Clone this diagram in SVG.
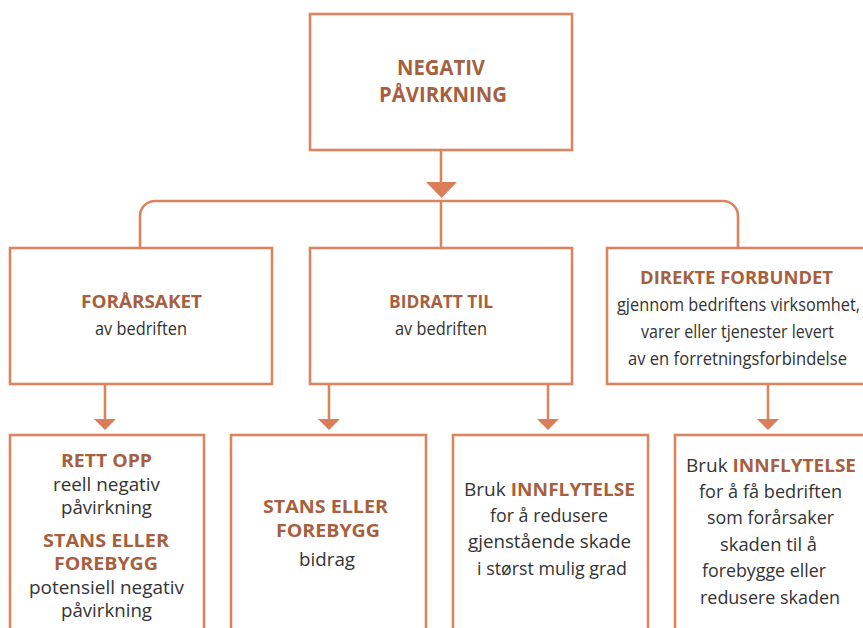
<svg xmlns="http://www.w3.org/2000/svg" width="863" height="628" viewBox="0 0 863 628">
<style>
.box{fill:#fff;stroke:#DA8560;stroke-width:2.6}
.ln{fill:none;stroke:#DA8560;stroke-width:2.6}
.tri{fill:#D97E58}
text{font-family:"Open Sans","Noto Sans","Liberation Sans",sans-serif;text-anchor:middle}
.b{font-weight:bold;fill:#A65F3F;font-size:18px}
.r{fill:#333;font-size:18px}
.t{font-weight:bold;fill:#A65F3F;font-size:21px}
</style>
<rect width="863" height="628" fill="#fff"/>
<g id="connectors">
<path class="ln" d="M441 150 V186"/>
<polygon class="tri" points="426,182 457,182 441.5,198"/>
<path class="ln" d="M140 248 V216 A15 15 0 0 1 155 201 H723 A15 15 0 0 1 738 216 V248 M441 201 V248"/>
<path class="ln" d="M105 384 V422 M329 384 V422 M548 384 V422 M768 384 V422"/>
<polygon class="tri" points="94,419 116,419 105,430"/>
<polygon class="tri" points="318,419 340,419 329,430"/>
<polygon class="tri" points="537,419 559,419 548,430"/>
<polygon class="tri" points="757,419 779,419 768,430"/>
</g>
<g id="negativ">
<rect class="box" x="310" y="14" width="262" height="136"/>
<text class="t" x="441" y="75" textLength="88" lengthAdjust="spacingAndGlyphs">NEGATIV</text>
<text class="t" x="443" y="102" textLength="128" lengthAdjust="spacingAndGlyphs">PÅVIRKNING</text>
</g>
<g id="forarsaket">
<rect class="box" x="10" y="248" width="262" height="136"/>
<text class="b" x="141.5" y="308" textLength="121" lengthAdjust="spacingAndGlyphs">FORÅRSAKET</text>
<text class="r" x="141" y="335" textLength="92" lengthAdjust="spacingAndGlyphs">av bedriften</text>
</g>
<g id="bidratt">
<rect class="box" x="310" y="248" width="262" height="136"/>
<text class="b" x="441" y="308" textLength="104" lengthAdjust="spacingAndGlyphs">BIDRATT TIL</text>
<text class="r" x="441" y="335" textLength="92" lengthAdjust="spacingAndGlyphs">av bedriften</text>
</g>
<g id="direkte">
<rect class="box" x="607" y="248" width="263" height="136"/>
<text class="b" x="736.5" y="284" textLength="193" lengthAdjust="spacingAndGlyphs">DIREKTE FORBUNDET</text>
<text class="r" x="738.5" y="311" textLength="243" lengthAdjust="spacingAndGlyphs">gjennom bedriftens virksomhet,</text>
<text class="r" x="737.5" y="338" textLength="193" lengthAdjust="spacingAndGlyphs">varer eller tjenester levert</text>
<text class="r" x="737.5" y="365" textLength="219" lengthAdjust="spacingAndGlyphs">av en forretningsforbindelse</text>
</g>
<g id="rettopp">
<rect class="box" x="10" y="435" width="194" height="210"/>
<text class="b" x="106.5" y="467" textLength="91" lengthAdjust="spacingAndGlyphs">RETT OPP</text>
<text class="r" x="106.5" y="491" textLength="107" lengthAdjust="spacingAndGlyphs">reell negativ</text>
<text class="r" x="106.5" y="514" textLength="91" lengthAdjust="spacingAndGlyphs">påvirkning</text>
<text class="b" x="106" y="547" textLength="126" lengthAdjust="spacingAndGlyphs">STANS ELLER</text>
<text class="b" x="106" y="570" textLength="104" lengthAdjust="spacingAndGlyphs">FOREBYGG</text>
<text class="r" x="106.5" y="594" textLength="155" lengthAdjust="spacingAndGlyphs">potensiell negativ</text>
<text class="r" x="106.5" y="617" textLength="91" lengthAdjust="spacingAndGlyphs">påvirkning</text>
</g>
<g id="stans">
<rect class="box" x="231" y="435" width="195" height="210"/>
<text class="b" x="325.5" y="513" textLength="125" lengthAdjust="spacingAndGlyphs">STANS ELLER</text>
<text class="b" x="328" y="537" textLength="104" lengthAdjust="spacingAndGlyphs">FOREBYGG</text>
<text class="r" x="327" y="566" textLength="56" lengthAdjust="spacingAndGlyphs">bidrag</text>
</g>
<g id="innflytelse1">
<rect class="box" x="453" y="435" width="195" height="210"/>
<text class="r" x="549.5" y="496" textLength="171" lengthAdjust="spacingAndGlyphs">Bruk <tspan class="b">INNFLYTELSE</tspan></text>
<text class="r" x="549" y="522" textLength="118" lengthAdjust="spacingAndGlyphs">for å redusere</text>
<text class="r" x="549.5" y="548" textLength="163" lengthAdjust="spacingAndGlyphs">gjenstående skade</text>
<text class="r" x="552" y="575" textLength="150" lengthAdjust="spacingAndGlyphs">i størst mulig grad</text>
</g>
<g id="innflytelse2">
<rect class="box" x="675" y="435" width="195" height="210"/>
<text class="r" x="771" y="472" textLength="170" lengthAdjust="spacingAndGlyphs">Bruk <tspan class="b">INNFLYTELSE</tspan></text>
<text class="r" x="770.5" y="498" textLength="143" lengthAdjust="spacingAndGlyphs">for å få bedriften</text>
<text class="r" x="770.5" y="524" textLength="127" lengthAdjust="spacingAndGlyphs">som forårsaker</text>
<text class="r" x="768.5" y="551" textLength="97" lengthAdjust="spacingAndGlyphs">skaden til å</text>
<text class="r" x="764" y="577" textLength="124" lengthAdjust="spacingAndGlyphs">forebygge eller</text>
<text class="r" x="770" y="604" textLength="140" lengthAdjust="spacingAndGlyphs">redusere skaden</text>
</g>
</svg>
